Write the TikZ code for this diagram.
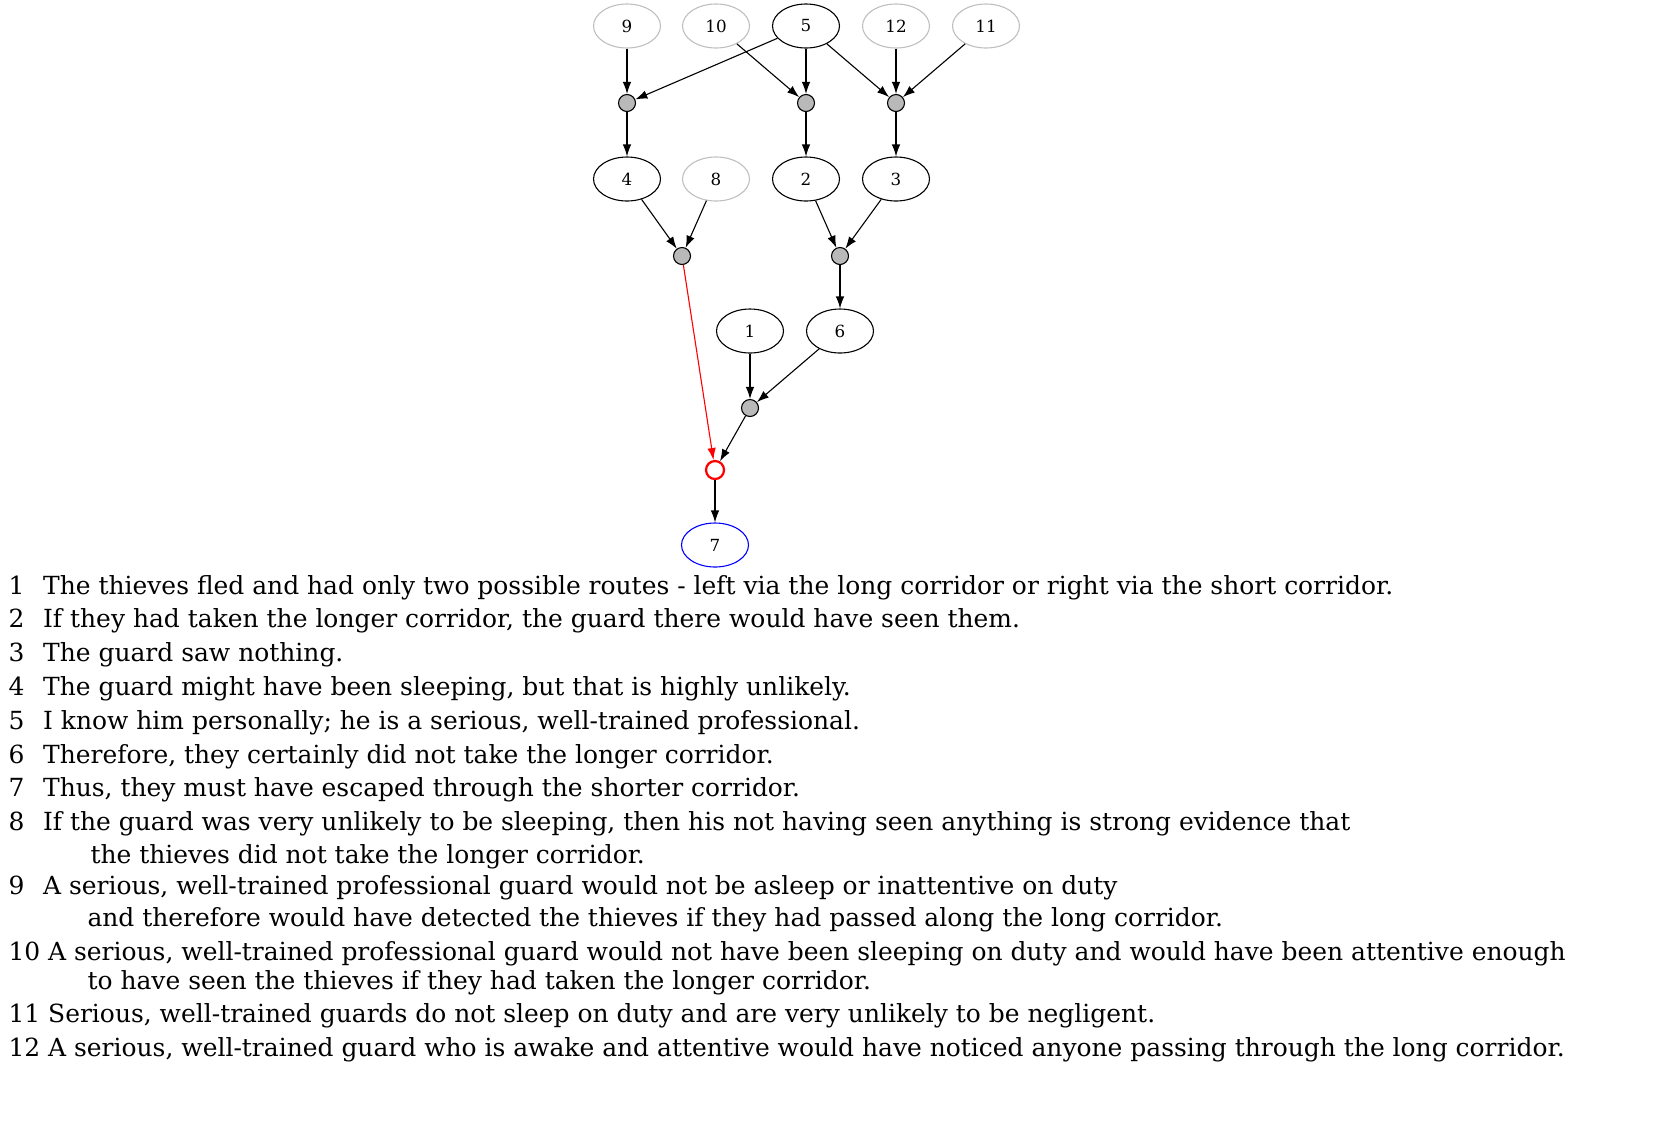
\documentclass[tikz,border=0pt]{standalone}
\usepackage{fontspec}
\setmainfont{DejaVu Serif}
\usetikzlibrary{arrows.meta,shapes.geometric}

\begin{document}
\begin{tikzpicture}[x=0.2mm,y=-0.2mm, line width=0.22mm,
  claim/.style={ellipse, draw, minimum width=13.4mm, minimum height=8.8mm, inner sep=0pt, font=\fontsize{9.5}{10}\selectfont},
  faint/.style={claim, draw=gray!50},
  joint/.style={circle, draw, fill=gray!55, minimum size=3.4mm, inner sep=0pt},
  link/.style={-{Latex[length=2.4mm,width=1.7mm]}},
  stmt/.style={anchor=base west, inner sep=0pt, font=\fontsize{14.2}{16}\selectfont}]
  \useasboundingbox (0,0) rectangle (1677,1147);
  % Premises
  \node[faint] (n9) at (627,26) {9};
  \node[faint] (n10) at (716,26) {10};
  \node[claim] (n5) at (806,26) {5};
  \node[faint] (n12) at (896,26) {12};
  \node[faint] (n11) at (986,26) {11};
  \node[joint] (j1) at (627,103) {};
  \node[joint] (j2) at (806,103) {};
  \node[joint] (j3) at (896,103) {};
  \node[claim] (n4) at (627,179) {4};
  \node[faint] (n8) at (716,179) {8};
  \node[claim] (n2) at (806,179) {2};
  \node[claim] (n3) at (896,179) {3};
  \node[joint] (j4) at (682,256) {};
  \node[joint] (j5) at (840,256) {};
  \node[claim] (n1) at (750,331) {1};
  \node[claim] (n6) at (840,331) {6};
  \node[joint] (j6) at (750,408) {};
  \node[circle, draw=red, line width=0.45mm, minimum size=3.6mm, inner sep=0pt] (con) at (715,470) {};
  \node[claim, draw=blue] (n7) at (715,545) {7};
  % Links
  \foreach \a/\b in {n9/j1, n5/j1, n10/j2, n5/j2, n5/j3, n12/j3, n11/j3,
    j1/n4, j2/n2, j3/n3, n4/j4, n8/j4, n2/j5, n3/j5, j5/n6,
    n1/j6, n6/j6, j6/con, con/n7}
    \draw[link] (\a) -- (\b);
  \draw[link, red] (j4) -- (con);
  % Statements
  \foreach \k/\t [count=\i] in {
    1/The thieves fled and had only two possible routes - left via the long corridor or right via the short corridor.,
    2/If they had taken the longer corridor{,} the guard there would have seen them.,
    3/The guard saw nothing.,
    4/The guard might have been sleeping{,} but that is highly unlikely.,
    5/I know him personally; he is a serious{,} well-trained professional.,
    6/Therefore{,} they certainly did not take the longer corridor.,
    7/Thus{,} they must have escaped through the shorter corridor.}
    \node[stmt] (s\k) at (8,{588+6+(\i-1)*33.8}) {\k\hspace{0.75em}\t};
  \node[stmt] (s8) at (8,830) {8\hspace{0.75em}If the guard was very unlikely to be sleeping, then his not having seen anything is strong evidence that};
  \node[stmt] (s8b) at (90,863) {the thieves did not take the longer corridor.};
  \node[stmt] (s9) at (8,894) {9\hspace{0.75em}A serious, well-trained professional guard would not be asleep or inattentive on duty};
  \node[stmt] (s9b) at (87,926) {and therefore would have detected the thieves if they had passed along the long corridor.};
  \node[stmt] (s10) at (8,960) {10 A serious, well-trained professional guard would not have been sleeping on duty and would have been attentive enough};
  \node[stmt] (s10b) at (87,989) {to have seen the thieves if they had taken the longer corridor.};
  \node[stmt] (s11) at (8,1022) {11 Serious, well-trained guards do not sleep on duty and are very unlikely to be negligent.};
  \node[stmt] (s12) at (8,1056) {12 A serious, well-trained guard who is awake and attentive would have noticed anyone passing through the long corridor.};
\end{tikzpicture}
\end{document}
